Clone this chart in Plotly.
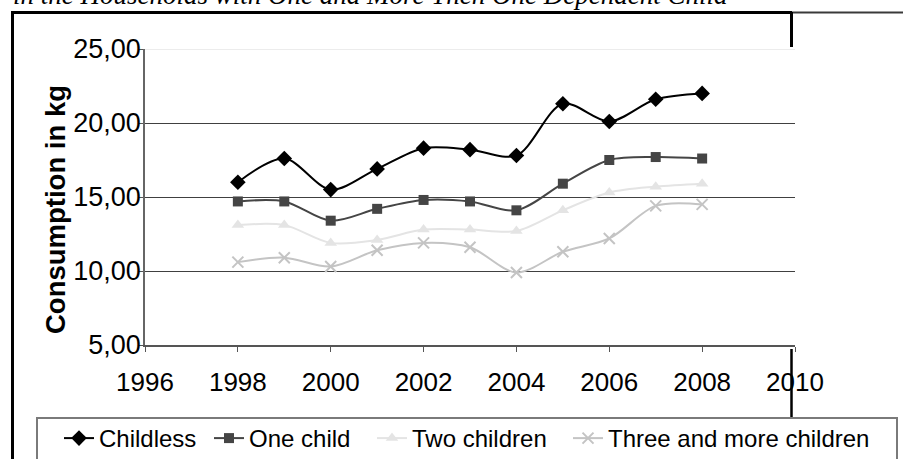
import plotly.graph_objects as go

# ---- data ----
years = [1998, 1999, 2000, 2001, 2002, 2003, 2004, 2005, 2006, 2007, 2008]
childless = [16.0, 17.6, 15.5, 16.9, 18.3, 18.2, 17.8, 21.3, 20.1, 21.6, 22.0]
one_child = [14.7, 14.7, 13.4, 14.2, 14.8, 14.7, 14.1, 15.9, 17.5, 17.7, 17.6]
two_children = [13.1, 13.1, 11.9, 12.1, 12.8, 12.8, 12.7, 14.1, 15.3, 15.7, 15.9]
three_more = [10.6, 10.9, 10.3, 11.4, 11.9, 11.6, 9.9, 11.3, 12.2, 14.4, 14.5]

series_names = ["Childless", "One child", "Two children", "Three and more children"]
y_tickvals = [5, 10, 15, 20, 25]
y_ticktext = ["5,00", "10,00", "15,00", "20,00", "25,00"]
x_tickvals = [1996, 1998, 2000, 2002, 2004, 2006, 2008, 2010]
x_ticktext = ["1996", "1998", "2000", "2002", "2004", "2006", "2008", "2010"]
y_title = "Consumption in kg"
top_text = "in the Households with One and More Then One Dependent Child"

# ---- layout geometry (pixels) ----
W, H = 903, 459
PL, PR, PT, PB = 145, 795, 49, 345


def fx(x):
    return x / W


def fy(y):
    return 1 - y / H


FONT = "Liberation Sans, Arial, sans-serif"

styles = [
    dict(color="#000000", symbol="diamond", size=12, lw=2),
    dict(color="#454545", symbol="square", size=10, lw=2),
    dict(color="#e4e4e4", symbol="triangle-up", size=11, lw=2),
    dict(color="#c4c4c4", symbol="x-thin", size=11, lw=2),
]
legend_widths = [105, 118, 151, 268]

fig = go.Figure()
for name, vals, st, lwid in zip(series_names, [childless, one_child, two_children, three_more], styles, legend_widths):
    marker = dict(symbol=st["symbol"], size=st["size"], color=st["color"])
    if st["symbol"] == "x-thin":
        marker["line"] = dict(color=st["color"], width=2)
    fig.add_trace(go.Scatter(
        x=years, y=vals, name=name, mode="lines+markers",
        line=dict(color=st["color"], width=st["lw"], shape="spline", smoothing=0.9),
        marker=marker, legendwidth=lwid,
    ))

shapes = [
    # light top gridline at 25
    dict(type="line", xref="paper", yref="y", x0=fx(PL), x1=fx(PR), y0=25, y1=25,
         line=dict(color="#e6e6e6", width=1.5), layer="above"),
    # outer frame left
    dict(type="line", xref="paper", yref="paper", x0=fx(12.5), x1=fx(12.5), y0=fy(11), y1=fy(470),
         line=dict(color="#000000", width=3), layer="above"),
    # outer frame top
    dict(type="line", xref="paper", yref="paper", x0=fx(11), x1=fx(792), y0=fy(12.5), y1=fy(12.5),
         line=dict(color="#000000", width=3), layer="above"),
    dict(type="line", xref="paper", yref="paper", x0=fx(792), x1=fx(905), y0=fy(12.5), y1=fy(12.5),
         line=dict(color="#3a3a3a", width=2), layer="above"),
    # vertical cell border pieces
    dict(type="line", xref="paper", yref="paper", x0=fx(791.5), x1=fx(791.5), y0=fy(12), y1=fy(47),
         line=dict(color="#000000", width=3), layer="above"),
    dict(type="line", xref="paper", yref="paper", x0=fx(791.5), x1=fx(791.5), y0=fy(349), y1=fy(418),
         line=dict(color="#000000", width=2.5), layer="above"),
    # legend box
    dict(type="rect", xref="paper", yref="paper", x0=fx(37), x1=fx(897), y0=fy(418), y1=fy(480),
         line=dict(color="#7a7a7a", width=2), fillcolor="rgba(0,0,0,0)", layer="above"),
]

annotations = [
    dict(text=y_title, xref="paper", yref="paper", x=fx(56), y=fy(210), textangle=-90,
         showarrow=False, xanchor="center", yanchor="middle",
         font=dict(family=FONT, size=27.5, color="#000000", weight="bold")),
    dict(text=top_text, xref="paper", yref="paper", x=fx(11), y=fy(-5), showarrow=False,
         xanchor="left", yanchor="middle",
         font=dict(family="Liberation Serif, Times New Roman, serif", size=27, color="#000000", style="italic")),
]

fig.update_layout(
    width=W, height=H,
    margin=dict(l=0, r=0, t=0, b=0, pad=0, autoexpand=False),
    paper_bgcolor="white", plot_bgcolor="white",
    font=dict(family=FONT, color="#000000"),
    showlegend=True,
    legend=dict(orientation="h", x=fx(59), y=fy(416), xanchor="left", yanchor="top",
                font=dict(family=FONT, size=24, color="#000000"), bgcolor="rgba(0,0,0,0)",
                borderwidth=0, itemwidth=30, tracegroupgap=0),
    shapes=shapes, annotations=annotations,
    xaxis=dict(domain=[fx(PL), fx(PR)], range=[1996, 2010], tickvals=x_tickvals, ticktext=x_ticktext,
               showgrid=False, zeroline=False, showline=True, linecolor="#555555", linewidth=1.5,
               ticks="outside", ticklen=5, tickcolor="#555555", tickwidth=1, ticklabelstandoff=8,
               tickfont=dict(family=FONT, size=26, color="#000000")),
    yaxis=dict(domain=[fy(PB), fy(PT)], range=[5, 25], tickvals=y_tickvals, ticktext=y_ticktext,
               showgrid=True, gridcolor="#404040", gridwidth=1, zeroline=False,
               showline=True, linecolor="#666666", linewidth=1.5,
               ticks="outside", ticklen=4, tickcolor="#555555", tickwidth=1, ticklabelstandoff=-7,
               tickfont=dict(family=FONT, size=27, color="#000000")),
)

fig.write_html("out.html", config={"displayModeBar": False},
               post_script="document.body.style.margin='0';")
